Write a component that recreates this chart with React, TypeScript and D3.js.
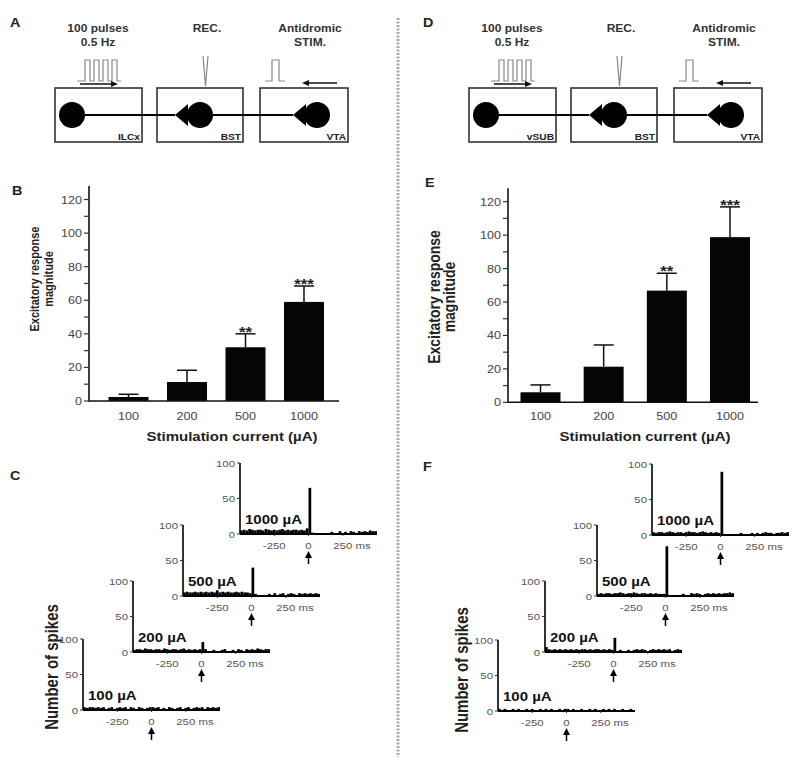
import React from 'react';
import * as d3 from 'd3';

// bar chart data (B: ILCx, E: vSUB)
const currents = ['100', '200', '500', '1000'];
const ilcxMeans = [2.4, 11.3, 32, 59];
const ilcxSem = [1.6, 7, 8, 9.5];
const vsubMeans = [6, 21.3, 66.8, 98.8];
const vsubSem = [4.4, 13, 10.4, 18.1];
const stars = ['', '', '**', '***'];
const yTicks = [0, 20, 40, 60, 80, 100, 120];
const yMinor = [10, 30, 50, 70, 90, 110];

// peri-stimulus histograms, 20 ms bins from -500 to +500 ms
const binStarts = d3.range(-500, 500, 20);
const ilcx1000 = [5,6,5,7,6,5,6,6,5,7,6,5,6,5,6,7,5,6,5,6,6,5,6,5,8, 65, 2,0,0,0,0,0,0,3,0,0,4,0,3,0,4,3,0,4,3,4,3,5,4,4];
const ilcx500 = [5,6,5,5,6,5,6,5,6,5,6,5,8,5,6,5,6,5,5,6,5,6,5,5,4, 40, 3,0,0,0,0,3,0,4,0,3,4,0,3,4,3,0,4,3,4,3,4,3,4,3];
const ilcx200 = [3,4,4,3,5,4,4,3,4,4,3,5,4,3,4,4,3,4,5,3,4,3,4,3,4, 14, 4,0,0,3,0,0,3,4,0,0,3,0,4,3,0,4,3,4,3,5,4,3,4,4];
const ilcx100 = [4,3,4,4,3,4,3,4,0,3,4,0,3,4,3,4,0,4,3,0,4,3,0,3,4, 4, 3,4,0,3,0,4,3,0,3,4,0,3,4,0,3,4,3,4,0,4,3,4,3,4];
const vsub1000 = [4,3,4,4,3,4,5,4,3,4,4,3,4,5,4,4,3,4,5,4,3,4,3,4,3, 89, 0,0,0,0,0,0,3,0,0,0,3,0,3,0,3,4,3,3,0,3,3,4,3,4];
const vsub500 = [3,4,3,4,4,3,4,4,5,4,3,4,4,5,4,3,4,4,3,4,3,4,3,3,3, 70, 0,0,0,0,0,3,0,0,4,3,4,3,0,3,4,3,4,3,4,3,4,4,5,4];
const vsub200 = [7,4,3,4,3,4,3,4,3,4,3,4,3,4,4,3,4,3,4,4,3,4,3,4,3, 20, 0,3,0,0,3,0,3,4,3,4,3,0,3,4,3,4,3,4,3,4,0,3,4,3];
const vsub100 = [3,0,3,0,0,3,0,3,0,0,3,0,3,0,0,3,0,3,0,3,0,0,3,0,3, 3, 0,3,0,0,3,0,0,3,0,3,0,0,3,0,3,0,3,0,0,3,0,0,3,0];

const SX = 1.2;
const FONT = "'Liberation Sans', Arial, Helvetica, sans-serif";

function T({ x, y, size, bold = false, anchor = 'start', rotate = 0, fill = '#222', children }: any) {
  return (
    <text
      transform={`translate(${x},${y}) scale(${SX},1)${rotate ? ` rotate(${rotate})` : ''}`}
      fontSize={size}
      fontWeight={bold ? 'bold' : 'normal'}
      textAnchor={anchor}
      fill={fill}
      fontFamily={FONT}
    >
      {children}
    </text>
  );
}

function Schematic({ ox, source }: { ox: number; source: string }) {
  const boxes = [[55, 142], [157, 243], [260, 348]];
  const names = [source, 'BST', 'VTA'];
  const cy = 115;
  const somas = [72, 200, 317];
  const terminals = [175, 293];
  return (
    <g transform={`translate(${ox},0)`}>
      <T x={98} y={32} size={10} bold anchor="middle" fill="#333">100 pulses</T>
      <T x={98} y={46} size={10} bold anchor="middle" fill="#333">0.5 Hz</T>
      <T x={207} y={32} size={10} bold anchor="middle" fill="#333">REC.</T>
      <T x={310} y={32} size={10} bold anchor="middle" fill="#333">Antidromic</T>
      <T x={310} y={46} size={10} bold anchor="middle" fill="#333">STIM.</T>
      <path d="M77,81H85V60H90V81H94V60H99V81H103V60H108V81H112V60H117V81H121" fill="none" stroke="#888" strokeWidth={1.2} />
      <line x1={80} x2={112} y1={84} y2={84} stroke="#111" strokeWidth={1.5} />
      <polygon points="118,84 111,81 111,87" fill="#111" />
      <path d="M203,56L205.5,86L208,56" fill="none" stroke="#888" strokeWidth={1.2} />
      <path d="M265,81H272V60H279V81H285" fill="none" stroke="#888" strokeWidth={1.2} />
      <line x1={308} x2={337} y1={83} y2={83} stroke="#111" strokeWidth={1.5} />
      <polygon points="302,83 309,80 309,86" fill="#111" />
      {boxes.map(([a, b], i) => (
        <g key={i}>
          <rect x={a} y={88} width={b - a} height={54} fill="none" stroke="#333" strokeWidth={1.6} />
          <T x={b - 2} y={140} size={8.5} bold anchor="end" fill="#222">{names[i]}</T>
        </g>
      ))}
      <line x1={somas[0]} x2={terminals[0]} y1={cy} y2={cy} stroke="#000" strokeWidth={2.2} />
      <line x1={somas[1]} x2={terminals[1]} y1={cy} y2={cy} stroke="#000" strokeWidth={2.2} />
      {terminals.map((t, i) => (
        <polygon key={i} points={`${t},${cy} ${t + 13},${cy - 11} ${t + 13},${cy + 11}`} fill="#000" />
      ))}
      {somas.map((s, i) => <circle key={i} cx={s} cy={cy} r={13} fill="#000" />)}
    </g>
  );
}

function BarPanel({ ax, y0, y120, bandStart, bandEnd, pad, means, sem, titleSize, titleX, titleY, xTitleX }: any) {
  const y = d3.scaleLinear().domain([0, 120]).range([y0, y120]);
  const x = d3.scaleBand<string>().domain(currents).range([bandStart, bandEnd]).paddingInner(pad);
  const bw = x.bandwidth();
  return (
    <g>
      {currents.map((c, i) => {
        const bx = x(c) as number;
        const cx = bx + bw / 2;
        const top = y(means[i]);
        const err = y(means[i] + sem[i]);
        return (
          <g key={c}>
            <line x1={cx} x2={cx} y1={top} y2={err} stroke="#111" strokeWidth={1.5} />
            <line x1={cx - 10} x2={cx + 10} y1={err} y2={err} stroke="#111" strokeWidth={1.5} />
            <rect x={bx} y={top} width={bw} height={y0 - top} fill="#050505" />
            {stars[i] && <T x={cx} y={err + 3} size={14} bold anchor="middle" fill="#222">{stars[i]}</T>}
            <T x={cx} y={420} size={10.5} anchor="middle" fill="#444">{c}</T>
          </g>
        );
      })}
      <line x1={ax} x2={ax} y1={y0 + 0.8} y2={y(128)} stroke="#111" strokeWidth={1.6} />
      <line x1={ax} x2={ax + 250} y1={y0} y2={y0} stroke="#111" strokeWidth={1.6} />
      {yTicks.map(t => (
        <g key={t}>
          <line x1={ax - 5} x2={ax} y1={y(t)} y2={y(t)} stroke="#333" strokeWidth={1.2} />
          <T x={ax - 7} y={y(t) + 4} size={10.5} anchor="end" fill="#444">{t}</T>
        </g>
      ))}
      {yMinor.map(t => (
        <line key={t} x1={ax - 5} x2={ax} y1={y(t)} y2={y(t)} stroke="#333" strokeWidth={1.2} />
      ))}
      <T x={titleX[0]} y={titleY} size={titleSize} bold anchor="middle" rotate={-90}>Excitatory response</T>
      <T x={titleX[1]} y={titleY} size={titleSize} bold anchor="middle" rotate={-90}>magnitude</T>
      <T x={xTitleX} y={441} size={12.5} bold anchor="middle">Stimulation current (µA)</T>
    </g>
  );
}

function Histo({ x0, y0, counts, label }: { x0: number; y0: number; counts: number[]; label: string }) {
  const xs = d3.scaleLinear().domain([-500, 500]).range([x0, x0 + 137]);
  const ys = d3.scaleLinear().domain([0, 100]).range([y0, y0 - 71]);
  const bw = xs(20) - xs(0);
  const zx = xs(0);
  return (
    <g>
      {counts.map((v, i) => (
        <rect key={i} x={xs(binStarts[i])} y={ys(v)} width={bw} height={y0 - ys(v)} fill="#000" />
      ))}
      <line x1={x0} x2={x0} y1={y0} y2={ys(100)} stroke="#000" strokeWidth={1.6} />
      <line x1={x0} x2={x0 + 137} y1={y0} y2={y0} stroke="#000" strokeWidth={1.8} />
      {[0, 50, 100].map(t => (
        <g key={t}>
          <line x1={x0 - 3} x2={x0} y1={ys(t)} y2={ys(t)} stroke="#333" strokeWidth={1} />
          <T x={x0 - 5} y={ys(t) + 3.5} size={9.5} anchor="end" fill="#555">{t}</T>
        </g>
      ))}
      {[-250, 0, 250].map(t => (
        <line key={t} x1={xs(t)} x2={xs(t)} y1={y0} y2={y0 + 2} stroke="#333" strokeWidth={1} />
      ))}
      <T x={xs(-250)} y={y0 + 15} size={9.5} anchor="middle" fill="#555">-250</T>
      <T x={zx} y={y0 + 15} size={9.5} anchor="middle" fill="#555">0</T>
      <T x={xs(250) - 9.5} y={y0 + 15} size={9.5} anchor="start" fill="#555">250 ms</T>
      <T x={x0 + 5} y={y0 - 10} size={12.5} bold fill="#111">{label}</T>
      <line x1={zx} x2={zx} y1={y0 + 23} y2={y0 + 30} stroke="#000" strokeWidth={1.5} />
      <polygon points={`${zx},${y0 + 17} ${zx - 3.5},${y0 + 24} ${zx + 3.5},${y0 + 24}`} fill="#000" />
    </g>
  );
}

const leftHistos = [
  { x0: 240, y0: 534, counts: ilcx1000, label: '1000 µA' },
  { x0: 183, y0: 596, counts: ilcx500, label: '500 µA' },
  { x0: 133, y0: 652, counts: ilcx200, label: '200 µA' },
  { x0: 83, y0: 710, counts: ilcx100, label: '100 µA' },
];
const rightHistos = [
  { x0: 652, y0: 535, counts: vsub1000, label: '1000 µA' },
  { x0: 597, y0: 596, counts: vsub500, label: '500 µA' },
  { x0: 545, y0: 652, counts: vsub200, label: '200 µA' },
  { x0: 498, y0: 711, counts: vsub100, label: '100 µA' },
];

export default function App() {
  return (
    <svg width={800} height={765} style={{ position: 'absolute', left: 0, top: 0, background: '#fff' }}>
      <rect width={800} height={765} fill="#fff" />
      <line x1={398} x2={398} y1={18} y2={757} stroke="#aaa" strokeWidth={3} strokeDasharray="2,1.5" />

      <T x={10} y={27} size={12} bold>A</T>
      <T x={12} y={195} size={12} bold>B</T>
      <T x={10} y={480} size={12} bold>C</T>
      <T x={423} y={27} size={12} bold>D</T>
      <T x={425} y={187} size={12} bold>E</T>
      <T x={423} y={471} size={12} bold>F</T>

      <Schematic ox={0} source="ILCx" />
      <Schematic ox={414} source="vSUB" />

      <BarPanel ax={89} y0={401} y120={199.5} bandStart={108.5} bandEnd={324} pad={0.316}
        means={ilcxMeans} sem={ilcxSem} titleSize={11} titleX={[38.5, 52.5]} titleY={279} xTitleX={232} />
      <BarPanel ax={508} y0={402.3} y120={201.7} bandStart={520.5} bandEnd={750} pad={0.367}
        means={vsubMeans} sem={vsubSem} titleSize={14} titleX={[440, 455]} titleY={297} xTitleX={645} />

      {leftHistos.map(h => <Histo key={h.label} {...h} />)}
      {rightHistos.map(h => <Histo key={h.label} {...h} />)}
      <T x={58} y={667} size={15} bold anchor="middle" rotate={-90}>Number of spikes</T>
      <T x={468} y={670} size={15} bold anchor="middle" rotate={-90}>Number of spikes</T>
    </svg>
  );
}
